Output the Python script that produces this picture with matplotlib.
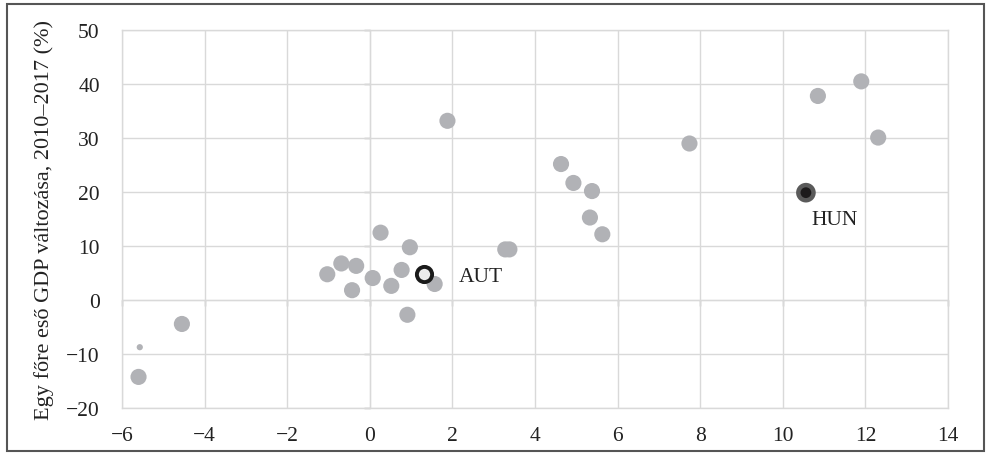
import numpy as np
import matplotlib.pyplot as plt
from matplotlib.patches import Rectangle

# Országok adatai (x: vízszintes tengely, y: egy főre eső GDP változása, %)
x_vals = [-5.6, -4.55, 0.26, 0.97, -1.03, -0.69, -0.33, -0.43, 0.07, 0.52,
          0.77, 1.57, 0.91, 1.88, 3.28, 3.38, 4.63, 4.93, 5.38, 5.33,
          5.63, 7.74, 10.85, 11.9, 12.31]
y_vals = [-14.3, -4.5, 12.4, 9.7, 4.7, 6.7, 6.25, 1.75, 4.0, 2.55,
          5.5, 2.9, -2.8, 33.1, 9.3, 9.3, 25.1, 21.6, 20.1, 15.2,
          12.1, 28.9, 37.7, 40.4, 30.0]
small_x = [-5.57]
small_y = [-8.8]
aut_x, aut_y = 1.32, 4.7
hun_x, hun_y = 10.56, 19.8

xticks = np.arange(-6, 15, 2)
yticks = np.arange(-20, 51, 10)

plt.rcParams['font.family'] = ['Liberation Serif', 'DejaVu Serif']

fig = plt.figure(figsize=(9.88, 4.56), dpi=100)
ax = fig.add_axes([0.1235, 0.1037, 0.836, 0.8294])

grey = '#b1b2b6'
ax.scatter(x_vals, y_vals, s=135, color=grey, edgecolors='none', zorder=3)
ax.scatter(small_x, small_y, s=20, color=grey, edgecolors='none', zorder=3)
ax.scatter([aut_x], [aut_y], s=120, facecolor='#ececec', edgecolors='#1a1a1a',
           linewidths=2.8, zorder=4)
ax.scatter([hun_x], [hun_y], s=200, color='#5a5a5a', edgecolors='none', zorder=4)
ax.scatter([hun_x], [hun_y], s=60, color='#1c1a1b', edgecolors='none', zorder=5)

ax.annotate('AUT', (aut_x, aut_y), xytext=(25, -1.5), textcoords='offset points',
            ha='left', va='center', fontsize=15.5, color='#222222')
ax.annotate('HUN', (hun_x, hun_y), xytext=(4, -19.5), textcoords='offset points',
            ha='left', va='center', fontsize=15.5, color='#222222')

ax.set_xlim(-6, 14)
ax.set_ylim(-20, 50)
ax.set_xticks(xticks)
ax.set_yticks(yticks)
ax.set_xticklabels([str(t).replace('-', '\u2212') for t in xticks])
ax.set_yticklabels([str(t).replace('-', '\u2212') for t in yticks])
ax.tick_params(length=0, labelsize=15.5, colors='#222222')
ax.tick_params(axis='y', pad=16)
ax.tick_params(axis='x', pad=13)
ax.grid(True, color='#d9d9d9', linewidth=1.0)
ax.set_axisbelow(True)
for sp in ax.spines.values():
    sp.set_color('#d9d9d9')
    sp.set_linewidth(1.0)

# tengelyek a nullpontban, kis osztásjelekkel
secx = ax.secondary_xaxis(20 / 70)
secx.set_xticks(xticks)
secx.tick_params(length=4, width=1, color='#a6a6a6', labelbottom=False)
secx.spines['bottom'].set_color('#a6a6a6')
secy = ax.secondary_yaxis(6 / 20)
secy.set_yticks(yticks)
secy.tick_params(length=4, width=1, color='#a6a6a6', labelleft=False)
secy.spines['left'].set_color('#a6a6a6')

ax.set_ylabel('Egy főre eső GDP változása, 2010–2017 (%)', fontsize=16,
              color='#222222', labelpad=9)

fig.patches.append(Rectangle((0.007, 0.009), 0.989, 0.979, transform=fig.transFigure,
                             fill=False, edgecolor='#555555', linewidth=1.5))

fig.savefig('out.png', dpi=100)
